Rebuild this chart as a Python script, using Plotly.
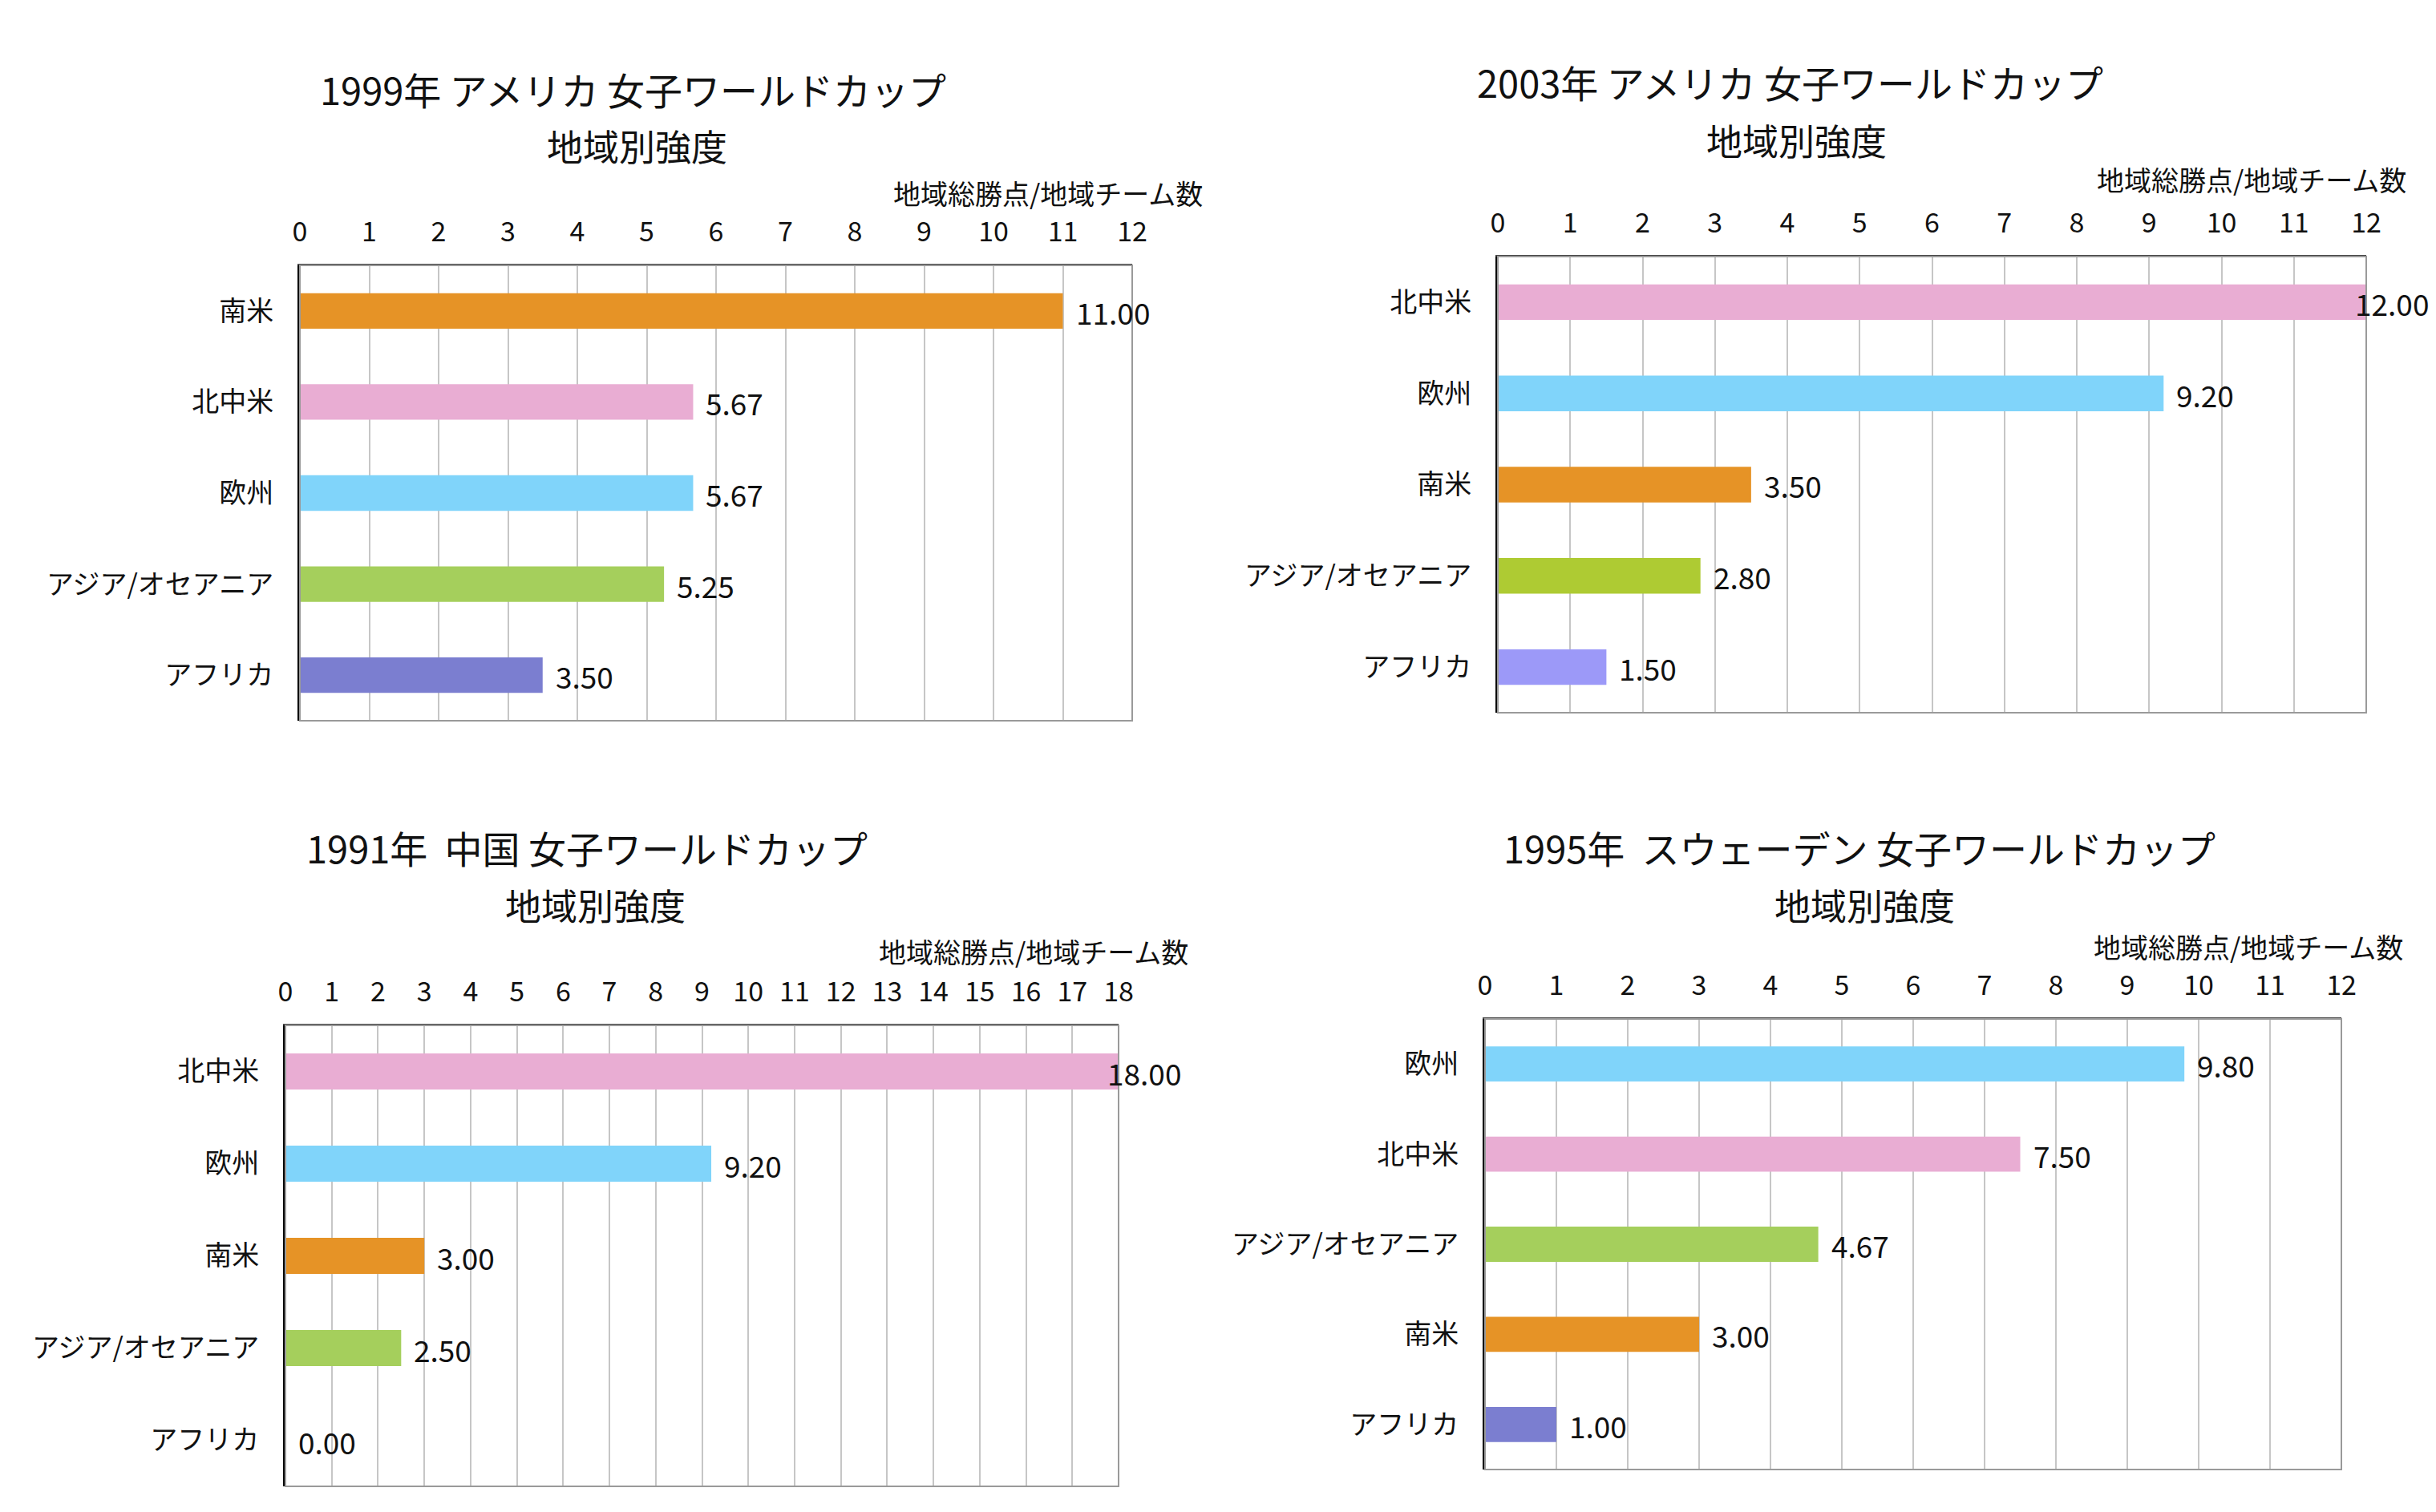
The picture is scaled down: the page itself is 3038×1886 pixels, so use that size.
import plotly.graph_objects as go

# ---- data ----
titles = ["1999年 アメリカ 女子ワールドカップ", "2003年 アメリカ 女子ワールドカップ",
          "1991年  中国 女子ワールドカップ", "1995年  スウェーデン 女子ワールドカップ"]
subtitle = "地域別強度"
axis_title = "地域総勝点/地域チーム数"

cats_1999 = ["南米", "北中米", "欧州", "アジア/オセアニア", "アフリカ"]
vals_1999 = [11.00, 5.67, 5.67, 5.25, 3.50]
cats_2003 = ["北中米", "欧州", "南米", "アジア/オセアニア", "アフリカ"]
vals_2003 = [12.00, 9.20, 3.50, 2.80, 1.50]
cats_1991 = ["北中米", "欧州", "南米", "アジア/オセアニア", "アフリカ"]
vals_1991 = [18.00, 9.20, 3.00, 2.50, 0.00]
cats_1995 = ["欧州", "北中米", "アジア/オセアニア", "南米", "アフリカ"]
vals_1995 = [9.80, 7.50, 4.67, 3.00, 1.00]
xmax = [12, 12, 18, 12]

region_colors = {"南米": "#E69326", "北中米": "#E9ADD3", "欧州": "#80D4FA",
                 "アジア/オセアニア": "#A5CF5C", "アフリカ": "#7B7ED0"}
colors_2003 = {"南米": "#E69326", "北中米": "#E9ADD3", "欧州": "#80D4FA",
               "アジア/オセアニア": "#AECB33", "アフリカ": "#9C99F8"}

FONT = "Noto Sans CJK JP"
W, H, OFF = 3030, 1878, 8


def px(x):
    return (x - OFF) / W


def py(y):
    return 1 - (y - OFF) / H


panels = [
    dict(cats=cats_1999, vals=vals_1999, colors=region_colors, box=(374, 331, 1412, 899),
         t1=(789, 110), t2=(794, 182), at=(1502, 240)),
    dict(cats=cats_2003, vals=vals_2003, colors=colors_2003, box=(1868, 320, 2951, 889),
         t1=(2232, 101), t2=(2240, 174), at=(3003, 223)),
    dict(cats=cats_1991, vals=vals_1991, colors=region_colors, box=(356, 1279, 1395, 1854),
         t1=(732, 1056), t2=(742, 1128), at=(1484, 1186)),
    dict(cats=cats_1995, vals=vals_1995, colors=region_colors, box=(1852, 1271, 2920, 1833),
         t1=(2319, 1056), t2=(2325, 1128), at=(2999, 1180)),
]

fig = go.Figure()
annotations = []
shapes = []
for i, p in enumerate(panels):
    n = "" if i == 0 else str(i + 1)
    xa, ya = "x" + n, "y" + n
    x0, y0, x1, y1 = p["box"]
    fig.add_trace(go.Bar(
        x=p["vals"], y=p["cats"], orientation="h", width=0.39,
        marker=dict(color=[p["colors"][c] for c in p["cats"]], line=dict(width=0)),
        xaxis=xa, yaxis=ya, showlegend=False, hoverinfo="x+y"))
    for c, v in zip(p["cats"], p["vals"]):
        shift = -16 if v >= xmax[i] else 14
        annotations.append(dict(x=v, y=c, xref=xa, yref=ya, text=f"{v:.2f}", showarrow=False,
                                xanchor="left", yanchor="middle", xshift=shift, yshift=-1,
                                font=dict(family=FONT, size=37, color="#111")))
    layout_x = dict(domain=[px(x0), px(x1)], anchor=ya, side="top", range=[0, xmax[i]], dtick=1, tick0=0,
                    showgrid=True, gridcolor="#C6C6C6", gridwidth=2, zeroline=False,
                    showline=True, linecolor="#444444", linewidth=2, automargin=False,
                    ticks="", ticklabelstandoff=14,
                    tickfont=dict(family=FONT, size=34, color="#111"))
    layout_y = dict(domain=[py(y1), py(y0)], anchor=xa, autorange="reversed", showgrid=False,
                    showline=True, linecolor="#000000", linewidth=3, ticks="", automargin=False,
                    ticklabelstandoff=23, tickfont=dict(family=FONT, size=34, color="#111"))
    fig.update_layout(**{"xaxis" + n: layout_x, "yaxis" + n: layout_y})
    shapes.append(dict(type="rect", xref=xa + " domain", yref=ya + " domain", x0=0, x1=1, y0=0, y1=1,
                       line=dict(color="#9A9A9A", width=2), layer="above"))
    annotations.append(dict(x=px(p["t1"][0]), y=py(p["t1"][1]), xref="paper", yref="paper", text=titles[i],
                            showarrow=False, xanchor="center", yanchor="middle",
                            font=dict(family=FONT, size=47, color="#111")))
    annotations.append(dict(x=px(p["t2"][0]), y=py(p["t2"][1]), xref="paper", yref="paper", text=subtitle,
                            showarrow=False, xanchor="center", yanchor="middle",
                            font=dict(family=FONT, size=45, color="#111")))
    annotations.append(dict(x=px(p["at"][0]), y=py(p["at"][1]), xref="paper", yref="paper", text=axis_title,
                            showarrow=False, xanchor="right", yanchor="middle",
                            font=dict(family=FONT, size=34, color="#111")))

fig.update_layout(width=W, height=H, margin=dict(l=0, r=0, t=0, b=0, autoexpand=False),
                  paper_bgcolor="white", plot_bgcolor="white",
                  annotations=annotations, shapes=shapes)
fig.write_html("out.html")
